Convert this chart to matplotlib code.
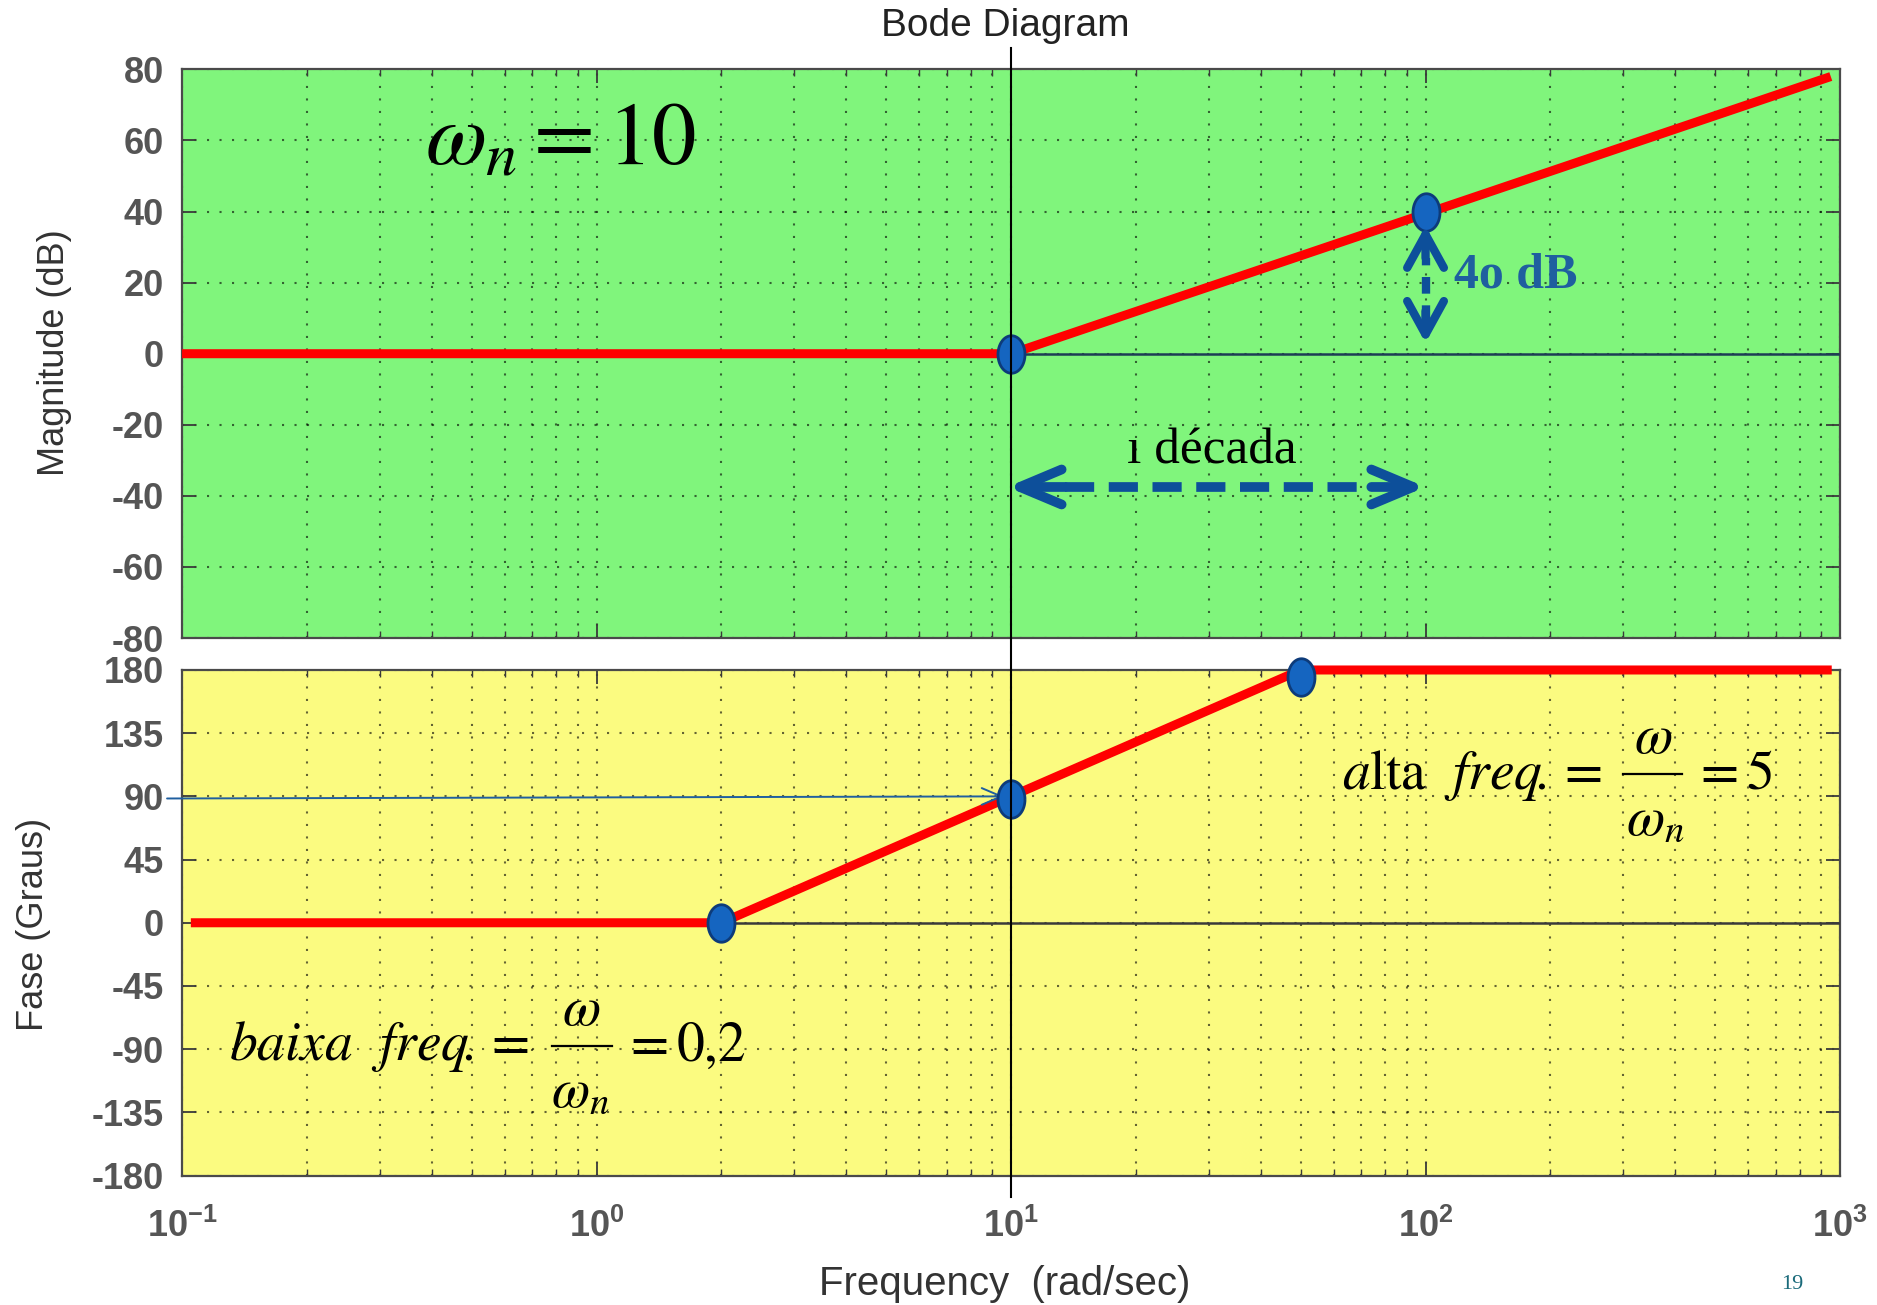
import matplotlib
matplotlib.use('Agg')
import matplotlib.pyplot as plt
import numpy as np
from matplotlib.lines import Line2D
from matplotlib.transforms import blended_transform_factory

# ── data (asymptotic Bode plot, wn = 10) ────────────────────────────────────
mag_freq  = [0.1, 10, 950]
mag_db    = [0, 0, 78]
mag_pts_f = [10, 100]
mag_pts_v = [0, 40]

ph_freq   = [0.105, 2, 50, 955]
ph_deg    = [0, 0, 180, 180]
ph_pts_f  = [2, 10, 50]
ph_pts_v  = [0, 88, 175]

mag_ticks = [-80, -60, -40, -20, 0, 20, 40, 60, 80]
ph_ticks  = [-180, -135, -90, -45, 0, 45, 90, 135, 180]

C_RED   = '#ff0000'
C_DOT   = '#1565c0'
C_DOTE  = '#0d3b7a'
C_ARROW = '#0d4f9a'
C_GREEN = '#80f57c'
C_YELL  = '#fbfb80'
C_TICK  = '#555555'

plt.rcParams.update({'font.family': ['Liberation Sans', 'DejaVu Sans'],
                     'axes.unicode_minus': False})

fig = plt.figure(figsize=(18.77, 13.05), dpi=100)
ax1 = fig.add_axes([0.0970, 0.5111, 0.8833, 0.4357])
ax2 = fig.add_axes([0.0970, 0.0992, 0.8833, 0.3874])

# ellipse marker (taller than wide)
t = np.linspace(0, 2 * np.pi, 60)
ell = list(zip(0.72 * np.cos(t), np.sin(t)))

for ax, fc, ticks in [(ax1, C_GREEN, mag_ticks), (ax2, C_YELL, ph_ticks)]:
    ax.set_facecolor(fc)
    ax.set_xscale('log')
    ax.set_xlim(0.1, 1000)
    ax.set_ylim(ticks[0], ticks[-1])
    ax.set_yticks(ticks)
    ax.grid(True, which='major', color='k', alpha=0.6, ls=(0, (1, 5)), lw=1.5)
    ax.grid(True, which='minor', axis='x', color='k', alpha=0.6, ls=(0, (1, 5)), lw=1.5)
    ax.tick_params(which='both', direction='in', top=True, right=True,
                   colors='#3a3a3a', labelcolor=C_TICK, labelsize=26)
    ax.tick_params(which='major', length=10, width=1.3)
    ax.tick_params(which='minor', length=5, width=1.0)
    ax.tick_params(axis='y', pad=13)
    for s in ax.spines.values():
        s.set_color('#4a4a4a'); s.set_linewidth(1.6)
    for lab in ax.get_yticklabels():
        lab.set_fontweight('bold')
ax1.tick_params(labelbottom=False)
for lab in ax2.get_xticklabels():
    lab.set_fontweight('bold')
ax2.tick_params(axis='x', pad=24)

# ── magnitude ───────────────────────────────────────────────────────────────
ax1.plot([10, 1000], [0, 0], color='#1d3d55', lw=1.8, zorder=3)
ax1.plot(mag_freq, mag_db, color=C_RED, lw=6.5, solid_capstyle='butt', zorder=4)
ax1.plot(mag_pts_f, mag_pts_v, ls='none', marker=ell, ms=27, mfc=C_DOT,
         mec=C_DOTE, mew=2, zorder=5)

ax1.text(0.1466, 0.834, r'$\omega_n = 10$', transform=ax1.transAxes,
         fontsize=64, math_fontfamily='stix', ha='left', va='baseline')

# vertical 40 dB arrow
ax1.plot([100, 100], [9, 27], color=C_ARROW, lw=6, ls=(0, (2, 1.4)), zorder=5)
for tip, tail in [(36, 27), (3, 12)]:
    ax1.annotate('', xy=(100, tip), xytext=(100, tail),
                 arrowprops=dict(arrowstyle='->,head_length=1.0,head_width=0.55',
                                 color=C_ARROW, lw=6, mutation_scale=24,
                                 shrinkA=0, shrinkB=0), zorder=5)
ax1.text(117, 22, '4o dB', fontsize=36, fontweight='bold', color='#1f5f9f',
         family='Liberation Serif', ha='left', va='center')

# horizontal "1 decada" arrow
ax1.plot([13.5, 74], [-37.5, -37.5], color=C_ARROW, lw=7, ls=(0, (3, 1.5)), zorder=5)
for tip, tail in [(9.8, 13.5), (100, 74)]:
    ax1.annotate('', xy=(tip, -37.5), xytext=(tail, -37.5),
                 arrowprops=dict(arrowstyle='->,head_length=1.0,head_width=0.42',
                                 color=C_ARROW, lw=7, mutation_scale=30,
                                 shrinkA=0, shrinkB=0), zorder=5)
ax1.text(30.5, -27.5, 'ı década', fontsize=37, color='black',
         family='Liberation Serif', ha='center', va='center')

# ── phase ───────────────────────────────────────────────────────────────────
ax2.plot([2, 1000], [0, 0], color='#3a3a3a', lw=1.8, zorder=3)
ax2.plot(ph_freq, ph_deg, color=C_RED, lw=6.5, solid_capstyle='butt',
         zorder=4, clip_on=False)
ax2.plot(ph_pts_f, ph_pts_v, ls='none', marker=ell, ms=27, mfc=C_DOT,
         mec=C_DOTE, mew=2, zorder=5, clip_on=False)
ax2.annotate('', xy=(9.6, 90), xytext=(0.092, 88.5),
             arrowprops=dict(arrowstyle='->,head_length=0.7,head_width=0.3',
                             color='#1f5fa0', lw=1.4, mutation_scale=20,
                             shrinkA=0, shrinkB=0), annotation_clip=False, zorder=4)

# formulas built from pieces: text, numerator, fraction bar, denominator, result
FS = 40
def formula(ax, x0, yb, lead, xnum, ynum, xbar, ybar, xden, yden, x1, tail):
    kw = dict(fontsize=FS, math_fontfamily='stix', va='baseline', zorder=6)
    ax.text(x0, yb, lead, ha='left', **kw)
    ax.text(xnum, ynum, r'$\omega$', ha='center', **kw)
    ax.plot(xbar, [ybar, ybar], color='k', lw=1.6, zorder=6)
    ax.text(xden, yden, r'$\omega_n$', ha='left', **kw)
    ax.text(x1, yb, tail, ha='left', **kw)

formula(ax2, 62.9, 95.5, r'$a\mathrm{lta}\ \ freq\!.=$',
        354, 121, [300, 416], 105.8, 304, 63, 440, r'$=5$')
formula(ax2, 0.130, -98, r'$baixa\ \ freq\!.=$',
        0.916, -72.5, [0.78, 1.088], -87.9, 0.775, -130.5, 1.15, r'$=0{,}2$')

# vertical line at wn through both panels
vt = blended_transform_factory(ax1.transData, fig.transFigure)
fig.add_artist(Line2D([10, 10], [0.963, 0.083], transform=vt, color='k', lw=1.5))

# ── labels ──────────────────────────────────────────────────────────────────
fig.text(0.5355, 0.980, 'Bode Diagram', ha='center', va='center', fontsize=28, color='#222222')
fig.text(0.5355, 0.016, 'Frequency  (rad/sec)', ha='center', va='center', fontsize=29, color='#333333')
fig.text(0.0288, 0.7295, 'Magnitude (dB)', rotation=90, ha='center', va='center', fontsize=26, color='#333333')
fig.text(0.0179, 0.292, 'Fase (Graus)', rotation=90, ha='center', va='center', fontsize=26, color='#333333')
fig.text(0.9547, 0.016, '19', ha='center', va='center', fontsize=16, color='#1a6a7a',
         family='Liberation Serif')

plt.savefig('out.png', dpi=100)
